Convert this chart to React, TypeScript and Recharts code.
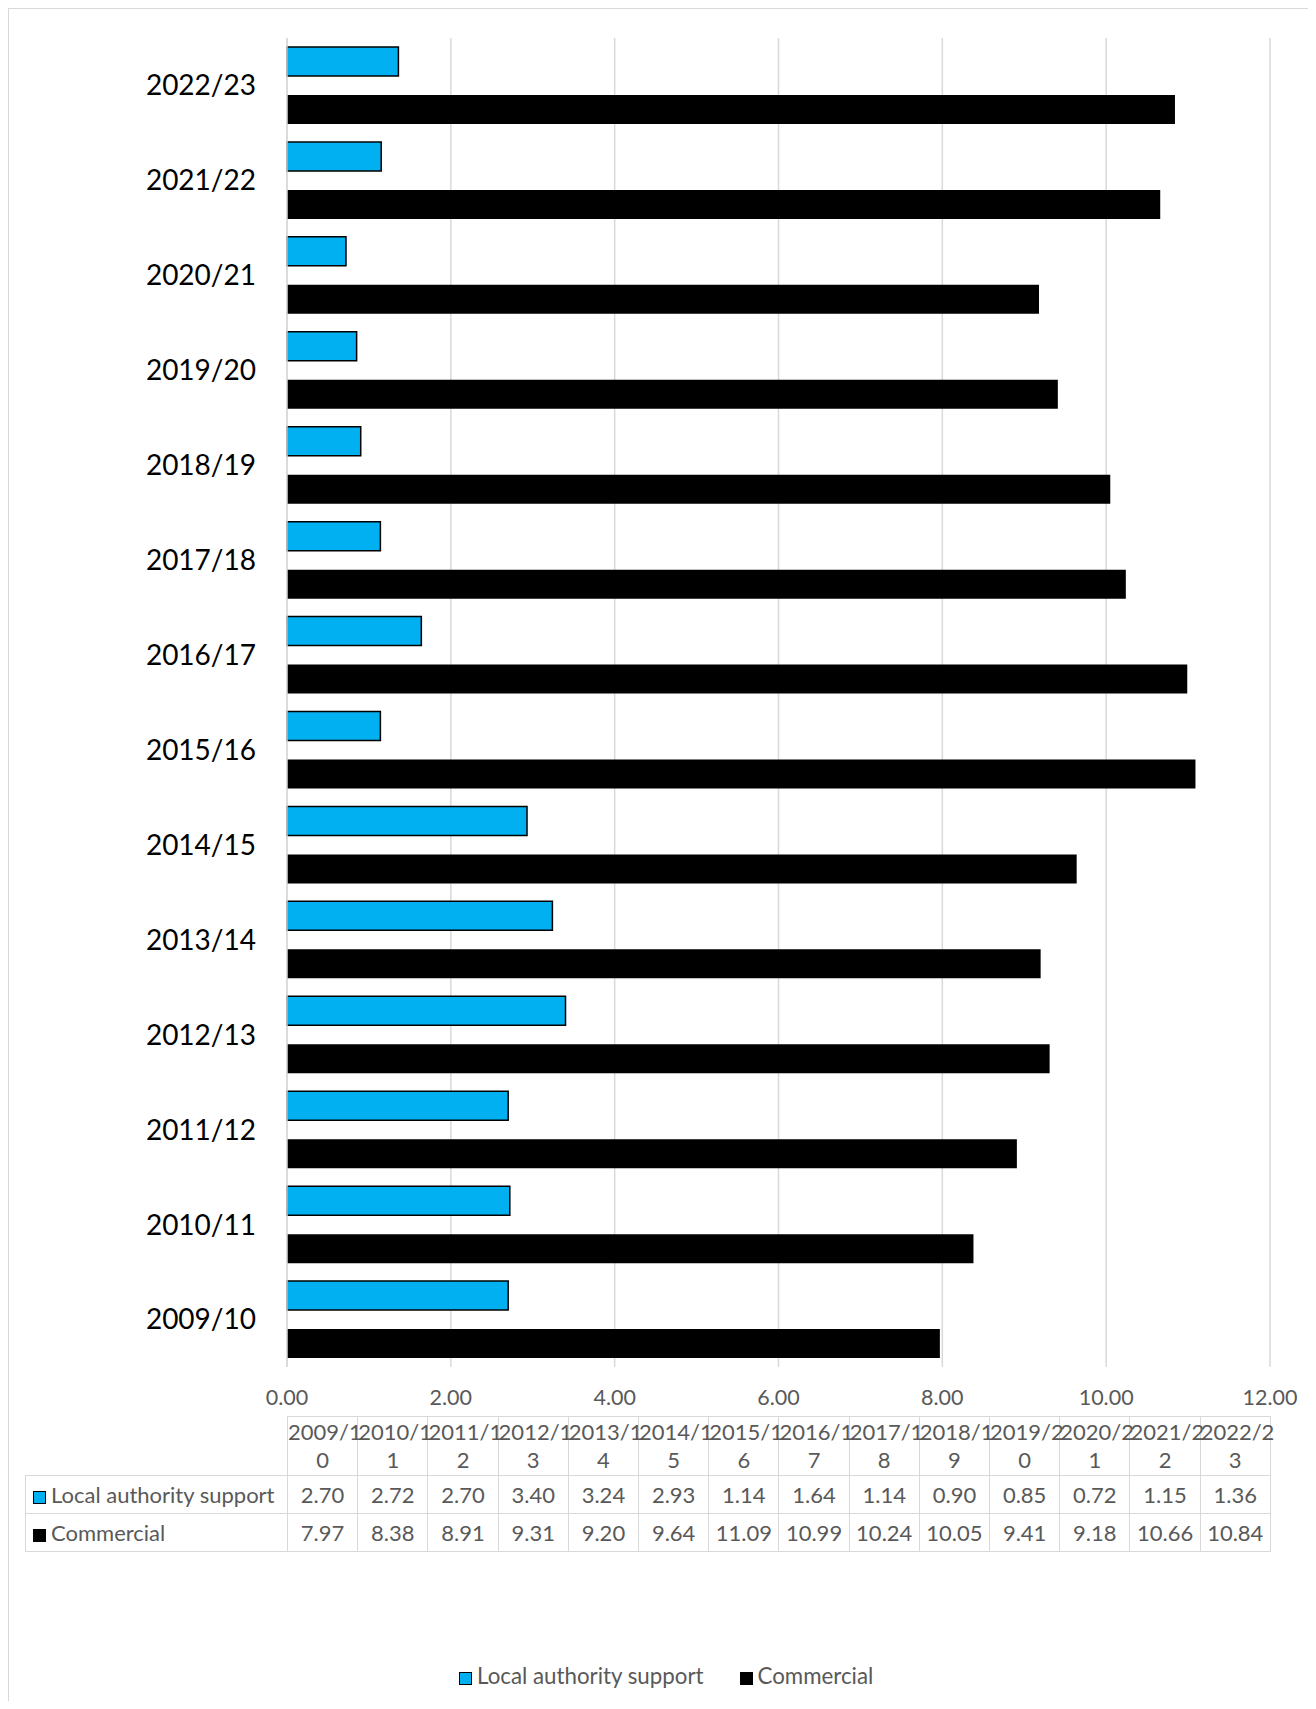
import React from "react";
import { BarChart, Bar, XAxis, YAxis, CartesianGrid } from "recharts";

const years = [
  "2009/10", "2010/11", "2011/12", "2012/13", "2013/14", "2014/15", "2015/16",
  "2016/17", "2017/18", "2018/19", "2019/20", "2020/21", "2021/22", "2022/23",
];
const localSupport = [2.7, 2.72, 2.7, 3.4, 3.24, 2.93, 1.14, 1.64, 1.14, 0.9, 0.85, 0.72, 1.15, 1.36];
const commercial = [7.97, 8.38, 8.91, 9.31, 9.2, 9.64, 11.09, 10.99, 10.24, 10.05, 9.41, 9.18, 10.66, 10.84];
const xTicks = [0, 2, 4, 6, 8, 10, 12];

const BLUE = "#00B0F0";
const GRID = "#D9D9D9";
const TEXT = "#595959";
const FONT = "Lato, 'Open Sans', sans-serif";

const Swatch = ({ color, border }: { color: string; border: string }) => (
  <span
    style={{
      display: "inline-block",
      width: 11,
      height: 11,
      background: color,
      border: `1.5px solid ${border}`,
      marginRight: 5,
      verticalAlign: "-1px",
    }}
  />
);

export default function App() {
  // Excel draws the first category at the bottom, so flip for the chart
  const chartData = years
    .map((y, i) => ({ year: y, local: localSupport[i], commercial: commercial[i] }))
    .reverse();

  const colW = 983 / years.length;
  const cell: React.CSSProperties = {
    border: `1px solid ${GRID}`,
    boxSizing: "border-box",
    textAlign: "center",
    padding: 0,
    overflow: "visible",
    whiteSpace: "nowrap",
  };
  const labelCell: React.CSSProperties = {
    ...cell,
    textAlign: "left",
    paddingLeft: 7,
  };

  return (
    <div
      style={{
        position: "relative",
        width: 1308,
        height: 1701,
        marginBottom: -8,
        overflow: "hidden",
        fontFamily: FONT,
      }}
    >
      {/* chart frame */}
      <div
        style={{
          position: "absolute",
          left: 0,
          top: 0,
          width: 1304,
          height: 1760,
          border: `1px solid ${GRID}`,
        }}
      />

      <div style={{ position: "absolute", left: 0, top: 0 }}>
        <BarChart
          width={1300}
          height={1430}
          data={chartData}
          layout="vertical"
          margin={{ top: 30, right: 38, left: 0, bottom: 31 }}
          barCategoryGap={9}
          barGap={19}
        >
          <CartesianGrid horizontal={false} vertical={true} stroke={GRID} strokeWidth={1.5} />
          <XAxis
            type="number"
            domain={[0, 12]}
            ticks={xTicks}
            interval={0}
            tickFormatter={(v: number) => v.toFixed(2)}
            axisLine={false}
            tickLine={false}
            tickSize={0}
            tickMargin={23}
            height={40}
            tick={{ fill: TEXT, fontSize: 21.5, fontFamily: FONT }}
          />
          <YAxis
            type="category"
            dataKey="year"
            width={279}
            axisLine={{ stroke: GRID, strokeWidth: 1.5 }}
            tickLine={false}
            tickSize={0}
            tickMargin={31}
            interval={0}
            tick={{ fill: "#000", fontSize: 28, fontFamily: FONT }}
          />
          <Bar dataKey="local" fill={BLUE} stroke="#000" strokeWidth={1.5} isAnimationActive={false} />
          <Bar dataKey="commercial" fill="#000" isAnimationActive={false} />
        </BarChart>
      </div>

      {/* data table */}
      <table
        style={{
          position: "absolute",
          left: 17,
          top: 1408,
          width: 262 + 983,
          borderCollapse: "collapse",
          tableLayout: "fixed",
          fontSize: 22,
          color: TEXT,
          fontFamily: FONT,
        }}
      >
        <colgroup>
          <col style={{ width: 262 }} />
          {years.map((y) => (
            <col key={y} style={{ width: colW }} />
          ))}
        </colgroup>
        <tbody>
          <tr style={{ height: 59 }}>
            <td style={{ padding: 0 }} />
            {years.map((y) => (
              <td key={y} style={{ ...cell, lineHeight: "28px" }}>
                {y.slice(0, 6)}
                <br />
                {y.slice(6)}
              </td>
            ))}
          </tr>
          <tr style={{ height: 38 }}>
            <td style={labelCell}>
              <Swatch color={BLUE} border="#000" />
              Local authority support
            </td>
            {localSupport.map((v, i) => (
              <td key={i} style={cell}>{v.toFixed(2)}</td>
            ))}
          </tr>
          <tr style={{ height: 38 }}>
            <td style={labelCell}>
              <Swatch color="#000" border="#000" />
              Commercial
            </td>
            {commercial.map((v, i) => (
              <td key={i} style={cell}>{v.toFixed(2)}</td>
            ))}
          </tr>
        </tbody>
      </table>

      {/* legend */}
      <div
        style={{
          position: "absolute",
          left: 451,
          top: 1654,
          fontSize: 22.3,
          color: TEXT,
          lineHeight: "28px",
          whiteSpace: "nowrap",
        }}
      >
        <Swatch color={BLUE} border="#000" />
        Local authority support
        <span style={{ display: "inline-block", width: 36 }} />
        <Swatch color="#000" border="#000" />
        Commercial
      </div>
    </div>
  );
}
